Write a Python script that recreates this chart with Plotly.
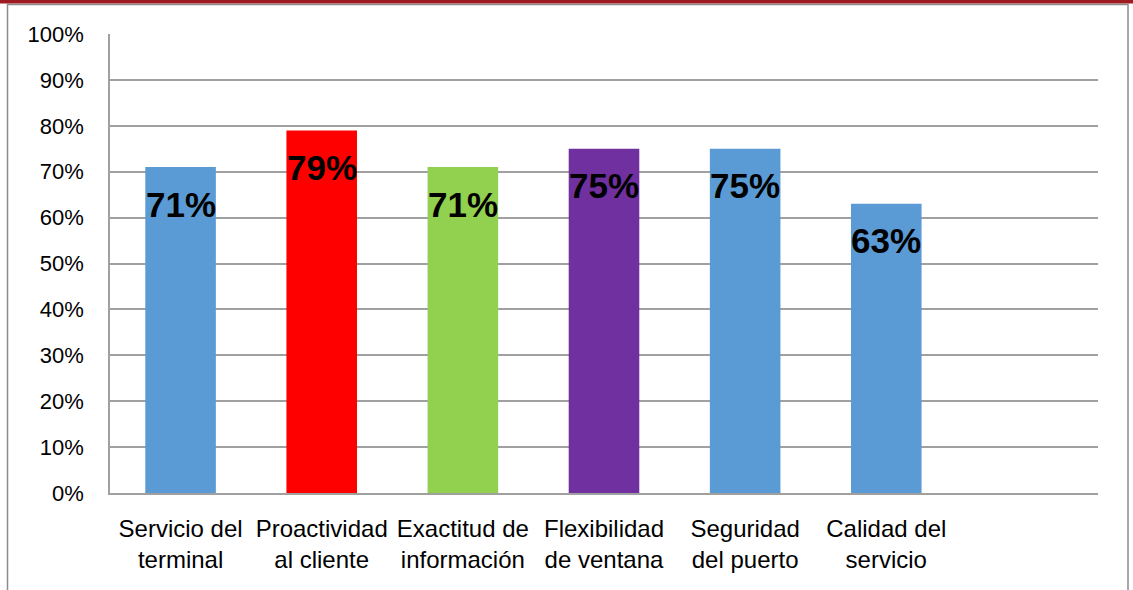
import plotly.graph_objects as go

# Survey results per service attribute
categories = [
    "Servicio del<br>terminal",
    "Proactividad<br>al cliente",
    "Exactitud de<br>información",
    "Flexibilidad<br>de ventana",
    "Seguridad<br>del puerto",
    "Calidad del<br>servicio",
]
values = [71, 79, 71, 75, 75, 63]
bar_colors = ["#5B9BD5", "#FF0000", "#92D050", "#7030A0", "#5B9BD5", "#5B9BD5"]
tick_vals = [0, 10, 20, 30, 40, 50, 60, 70, 80, 90, 100]
tick_text = [f"{v}%" for v in tick_vals]

W, H = 1133, 590
L, R, T, B = 110, 35, 34, 97
plot_w = W - L - R
plot_h = H - T - B


def px_x(p):
    return (p - L) / plot_w


def px_y(p):
    return (H - B - p) / plot_h


fig = go.Figure()
fig.add_trace(go.Bar(
    x=categories,
    y=values,
    marker=dict(color=bar_colors, line=dict(width=0)),
    width=0.5,
    hoverinfo="skip",
))

# value labels just inside the top of each bar
for c, v in zip(categories, values):
    fig.add_annotation(
        x=c, y=v, text=f"<b>{v}%</b>", showarrow=False,
        yanchor="middle", yshift=-37,
        font=dict(family="Liberation Sans", size=35, color="#000000"),
    )

# outer frame and top band
fig.add_shape(type="rect", xref="paper", yref="paper",
              x0=px_x(7.5), x1=px_x(1128), y0=px_y(600), y1=px_y(4.5),
              line=dict(color="#8C8C8C", width=1.5), fillcolor="rgba(0,0,0,0)",
              layer="below")
fig.add_shape(type="rect", xref="paper", yref="paper",
              x0=px_x(-5), x1=px_x(W + 5), y0=px_y(3.5), y1=px_y(-5),
              line=dict(width=0), fillcolor="#9E1B22")

fig.update_layout(
    width=W, height=H,
    margin=dict(l=L, r=R, t=T, b=B, autoexpand=False),
    paper_bgcolor="white", plot_bgcolor="white",
    showlegend=False,
    font=dict(family="Liberation Sans", color="#000000"),
    xaxis=dict(
        type="category", range=[-0.5, 6.5],
        showgrid=False, zeroline=False,
        showline=True, linecolor="#A0A0A0", linewidth=1.5,
        ticks="", tickfont=dict(size=24), ticklabelstandoff=13,
        fixedrange=True,
    ),
    yaxis=dict(
        range=[0, 100], tickvals=tick_vals, ticktext=tick_text,
        showgrid=True, gridcolor="#A0A0A0", gridwidth=1.5,
        zeroline=False, showline=True, linecolor="#A0A0A0", linewidth=1.5,
        ticks="", tickfont=dict(size=22), ticklabelstandoff=20,
        fixedrange=True,
    ),
)

fig.write_html("out.html")
